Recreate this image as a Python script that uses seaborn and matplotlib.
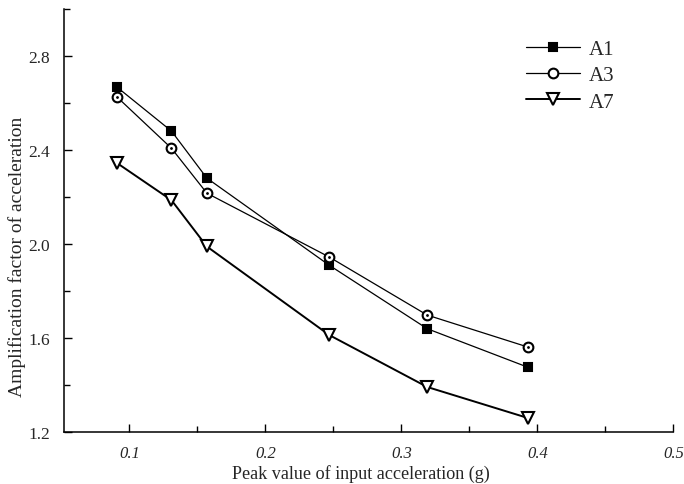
import matplotlib
matplotlib.use("Agg")
import matplotlib.pyplot as plt
import seaborn as sns
import pandas as pd
from matplotlib.ticker import MultipleLocator

sns.set_style("ticks")
plt.rcParams['font.family'] = ['Liberation Serif', 'DejaVu Serif']

x_vals = [0.091, 0.131, 0.157, 0.247, 0.319, 0.393]
a1 = [2.668, 2.481, 2.281, 1.910, 1.640, 1.476]
a3 = [2.626, 2.408, 2.217, 1.945, 1.698, 1.562]
a7 = [2.345, 2.187, 1.990, 1.613, 1.392, 1.260]
series_names = ["A1", "A3", "A7"]
x_ticks = [0.1, 0.2, 0.3, 0.4, 0.5]
y_ticks = [1.2, 1.6, 2.0, 2.4, 2.8]

fig = plt.figure(figsize=(6.84, 4.85), dpi=100)
ax = fig.add_axes([0.0936, 0.107, 0.891, 0.872])

styles = {
    "A1": dict(marker="s", markerfacecolor="black", markersize=6, linewidth=0.9),
    "A3": dict(marker="o", markerfacecolor="white", markersize=7, linewidth=0.9),
    "A7": dict(marker="v", markerfacecolor="white", markersize=9, linewidth=1.4),
}
for name, vals in zip(series_names, [a1, a3, a7]):
    df = pd.DataFrame({"x": x_vals, "y": vals})
    st = styles[name]
    sns.lineplot(data=df, x="x", y="y", ax=ax, color="black",
                 marker=st["marker"], markersize=st["markersize"],
                 markerfacecolor=st["markerfacecolor"], markeredgecolor="black",
                 markeredgewidth=1.5, linewidth=st["linewidth"], label=name)

# centre dots of the circle markers
ax.plot(x_vals, a3, linestyle="none", marker=".", markersize=2, color="black")

ax.set_xlim(0.052, 0.5)
ax.set_ylim(1.2, 3.0)
ax.set_xticks(x_ticks)
ax.set_yticks(y_ticks)
ax.xaxis.set_minor_locator(MultipleLocator(0.05))
ax.yaxis.set_minor_locator(MultipleLocator(0.2))
ax.set_xticklabels([f"{t:.1f}" for t in x_ticks], fontstyle="italic", fontsize=12)
ax.set_yticklabels([f"{t:.1f}" for t in y_ticks], fontsize=12.5)
ax.tick_params(which="major", direction="in", length=6, width=1, color="black")
ax.tick_params(which="minor", direction="in", length=4, width=1, color="black")
ax.tick_params(axis="x", which="major", pad=9)
ax.tick_params(axis="y", which="major", pad=10)
sns.despine(ax=ax)
for sp in ["left", "bottom"]:
    ax.spines[sp].set_color("black")
    ax.spines[sp].set_linewidth(1.1)

ax.set_xlabel("Peak value of input acceleration (g)", fontsize=13.1)
ax.set_ylabel("Amplification factor of acceleration", fontsize=14)
ax.xaxis.set_label_coords(0.487, -0.075)
ax.yaxis.set_label_coords(-0.062, 0.416)

leg = ax.legend(loc="upper right", bbox_to_anchor=(0.916, 0.948), frameon=False,
                fontsize=15, handlelength=2.6, handletextpad=0.4,
                labelspacing=0.32, borderaxespad=0)

fig.savefig("out.png", dpi=100)
